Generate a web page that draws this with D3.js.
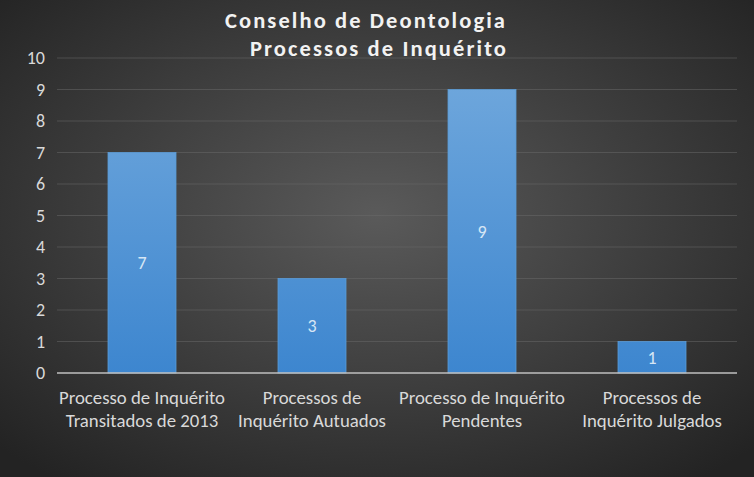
<!DOCTYPE html>
<html><head><meta charset="utf-8">
<script src="https://cdn.jsdelivr.net/npm/d3@7"></script>
<style>body{margin:0;background:#333;}svg{display:block;}</style>
</head><body>
<script>
const categories = [["Processo de Inquérito","Transitados de 2013"],["Processos de","Inquérito Autuados"],["Processo de Inquérito","Pendentes"],["Processos de","Inquérito Julgados"]];
const values = [7,3,9,1];
const yTicks = [0,1,2,3,4,5,6,7,8,9,10];
const titleLines = ["Conselho de Deontologia","Processos de Inquérito"];

const W=754,H=477;
const m={l:57,r:17,t:58,b:104};
const svg=d3.select("body").append("svg").attr("width",W).attr("height",H);
const defs=svg.append("defs");
const rg=defs.append("radialGradient").attr("id","bg").attr("cx","50%").attr("cy","45%").attr("r","70%");
rg.append("stop").attr("offset","0%").attr("stop-color","#5a5a5a");
rg.append("stop").attr("offset","100%").attr("stop-color","#232323");
const lg=defs.append("linearGradient").attr("id","bar").attr("gradientUnits","userSpaceOnUse").attr("x1",0).attr("x2",0).attr("y1",m.t).attr("y2",H-m.b);
lg.append("stop").attr("offset","0%").attr("stop-color","#72a9dd");
lg.append("stop").attr("offset","100%").attr("stop-color","#3d86cf");
svg.append("rect").attr("width",W).attr("height",H).attr("fill","url(#bg)");

const x=d3.scaleBand().domain(d3.range(categories.length)).range([m.l,W-m.r]).paddingInner(0.6).paddingOuter(0.3);
const y=d3.scaleLinear().domain([0,10]).range([H-m.b,m.t]);

const font="Calibri, Carlito, Lato, sans-serif";
svg.append("g").selectAll("line").data(yTicks.filter(d=>d>0)).join("line")
  .attr("x1",m.l).attr("x2",W-m.r).attr("y1",d=>y(d)).attr("y2",d=>y(d))
  .attr("stroke","#6a6a6a").attr("stroke-width",1).attr("opacity",0.5);
const ya=svg.append("g").attr("transform",`translate(${m.l},0)`).call(d3.axisLeft(y).tickValues(yTicks).tickSize(0).tickPadding(12));
ya.select(".domain").remove();
ya.selectAll("text").attr("fill","#d9d9d9").style("font-family",font).style("font-size","18px");

svg.append("g").selectAll("rect").data(values).join("rect")
  .attr("x",(d,i)=>x(i)).attr("width",x.bandwidth())
  .attr("y",d=>y(d)).attr("height",d=>y(0)-y(d))
  .attr("fill","url(#bar)").attr("stroke","#5b9bd5").attr("stroke-width",0.8);
svg.append("line").attr("x1",m.l).attr("x2",W-m.r).attr("y1",y(0)).attr("y2",y(0)).attr("stroke","#bfbfbf").attr("stroke-width",1.5);
svg.append("g").selectAll("text").data(values).join("text")
  .attr("x",(d,i)=>x(i)+x.bandwidth()/2).attr("y",d=>(y(d)+y(0))/2).attr("dy","0.35em")
  .attr("text-anchor","middle").attr("fill","#d6e6f5").style("font-family",font).style("font-size","18px")
  .text(d=>d);
const cg=svg.append("g").selectAll("text").data(categories).join("text")
  .attr("text-anchor","middle").attr("fill","#d9d9d9").style("font-family",font).style("font-size","18.8px");
cg.each(function(d,i){
  const t=d3.select(this);
  d.forEach((s,j)=>t.append("tspan").attr("x",x(i)+x.bandwidth()/2).attr("y",y(0)+31+j*23).text(s));
});
svg.append("text").attr("x",366).attr("y",28).attr("text-anchor","middle").attr("fill","#f2f2f2")
  .style("font-family",font).style("font-size","22.5px").style("font-weight","bold").style("letter-spacing","2.1px").text(titleLines[0]);
svg.append("text").attr("x",379).attr("y",56).attr("text-anchor","middle").attr("fill","#f2f2f2")
  .style("font-family",font).style("font-size","22.5px").style("font-weight","bold").style("letter-spacing","2.1px").text(titleLines[1]);
</script>
</body></html>
